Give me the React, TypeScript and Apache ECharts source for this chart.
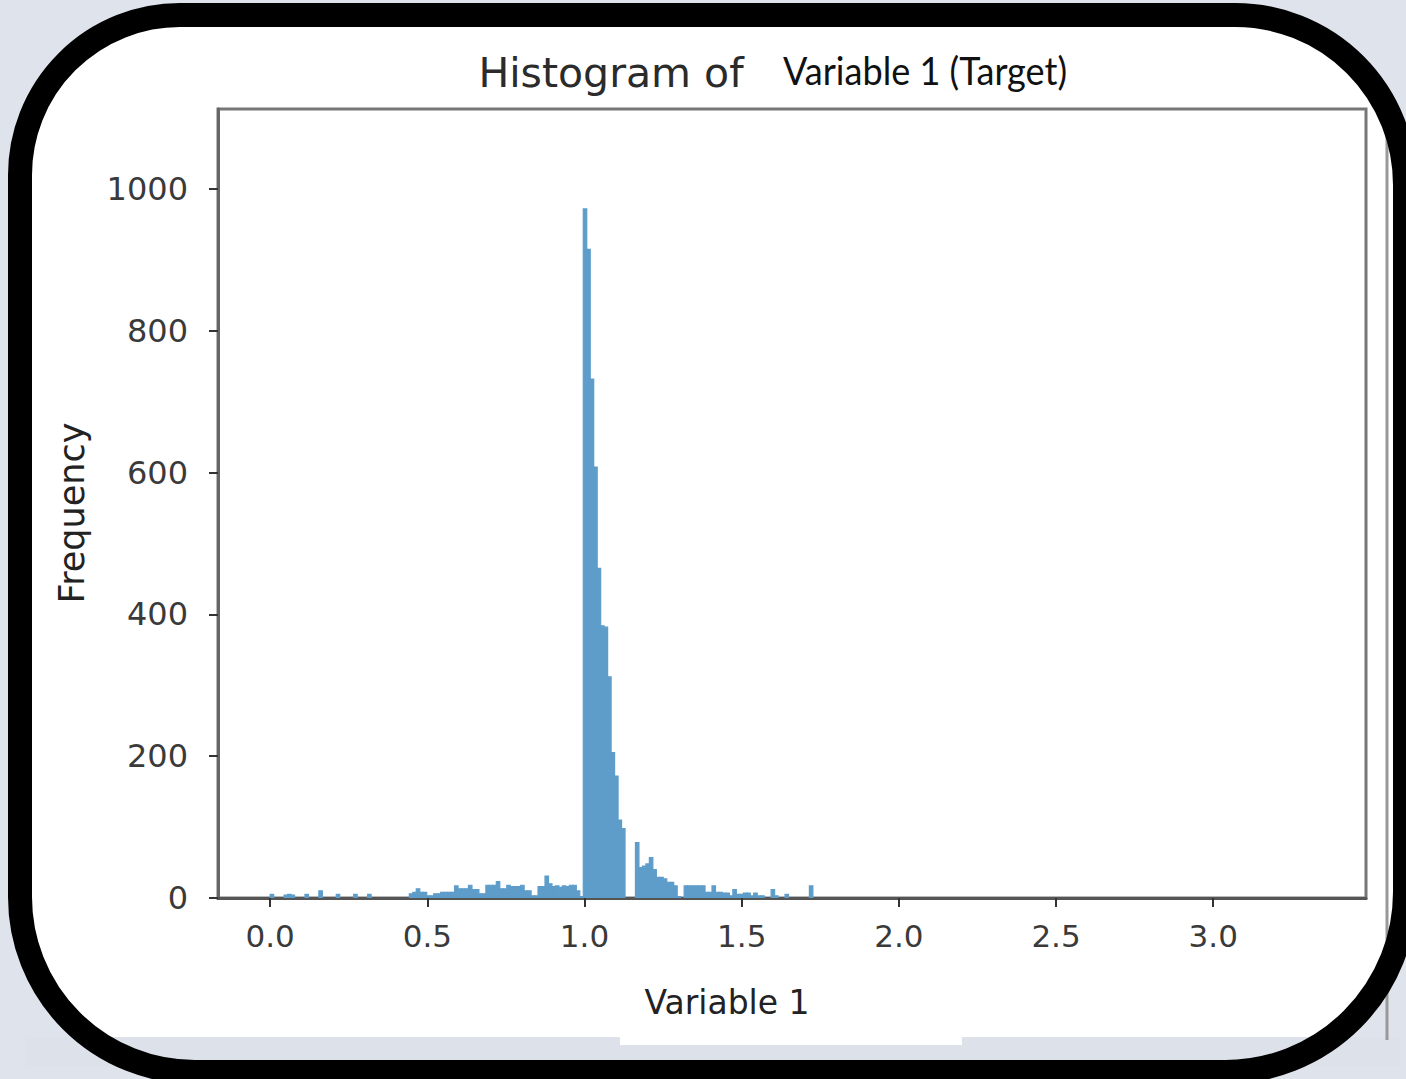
import React, { useEffect, useRef } from "react";
import * as echarts from "echarts";

// Histogram bins: left edge of bin i = binStart + i * binWidth
const binStart = 0;
const binWidth = 3.32 / 300;
const counts = [
  5, 0, 0, 0, 4, 5, 4, 0, 0, 0,
  5, 0, 0, 0, 10, 0, 0, 0, 0, 5,
  0, 0, 0, 0, 5, 0, 0, 0, 5, 0,
  0, 0, 0, 0, 0, 0, 0, 0, 0, 0,
  6, 8, 13, 8, 8, 3, 3, 6, 6, 8,
  8, 8, 8, 17, 13, 13, 13, 18, 12, 12,
  6, 6, 18, 18, 18, 23, 13, 13, 18, 16,
  16, 16, 18, 10, 10, 3, 3, 16, 16, 31,
  20, 16, 17, 15, 17, 16, 18, 18, 10, 2,
  972, 915, 732, 608, 465, 384, 382, 312, 205, 172,
  110, 98, 0, 0, 0, 78, 43, 45, 48, 57,
  40, 29, 29, 27, 22, 22, 17, 2, 0, 17,
  17, 17, 17, 17, 17, 8, 8, 17, 8, 8,
  7, 7, 3, 12, 5, 5, 7, 7, 3, 7,
  3, 3, 0, 0, 12, 3, 0, 0, 5, 0,
  0, 0, 0, 0, 0, 17,
];
const xTicks = [0, 0.5, 1, 1.5, 2, 2.5, 3];
const yTicks = [0, 200, 400, 600, 800, 1000];
const xMin = -0.166;
const xMax = 3.486;
const yMin = 0;
const yMax = 1113;
const titleMain = "Histogram of";
const titleVar = "Variable 1 (Target)";
const xName = "Variable 1";
const yName = "Frequency";

export default function App() {
  const ref = useRef<HTMLDivElement>(null);
  useEffect(() => {
    const chart = echarts.init(ref.current!, null, { renderer: "svg" });
    const data = counts
      .map((c, i) => [binStart + i * binWidth, binStart + (i + 1) * binWidth, c])
      .filter((d) => d[2] > 0);
    const frame = { x: 20, y: 15, width: 1385, height: 1057, r: [160, 170, 180, 175] };
    chart.setOption({
      animation: false,
      backgroundColor: "#dfe3ec",
      textStyle: { fontFamily: "DejaVu Sans" },
      grid: {
        left: 218,
        right: 40,
        top: 109,
        bottom: 181,
        containLabel: false,
        outerBoundsMode: "none",
        show: true,
        borderColor: "#777",
        borderWidth: 3,
        backgroundColor: "#fff",
      },
      xAxis: {
        type: "value",
        min: xMin,
        max: xMax,
        axisLine: { show: true, onZero: false, lineStyle: { color: "#555", width: 3 } },
        axisTick: { show: true, customValues: xTicks, length: 9, lineStyle: { color: "#333", width: 2 } },
        axisLabel: {
          customValues: xTicks,
          formatter: (v: number) => v.toFixed(1),
          fontSize: 31,
          color: "#3a3a3a",
          margin: 22,
        },
        splitLine: { show: false },
      },
      yAxis: {
        type: "value",
        min: yMin,
        max: yMax,
        axisLine: { show: true, onZero: false, lineStyle: { color: "#666", width: 3 } },
        axisTick: { show: true, customValues: yTicks, length: 9, lineStyle: { color: "#333", width: 2 } },
        axisLabel: {
          customValues: yTicks,
          formatter: (v: number) => String(v),
          fontSize: 32,
          color: "#3a3a3a",
          margin: 30,
        },
        splitLine: { show: false },
      },
      graphic: {
        elements: [
          { type: "rect", silent: true, z: -10, shape: frame, style: { fill: "#ffffff" } },
          { type: "rect", silent: true, z: -9, shape: { x: 25, y: 1037, width: 1375, height: 30 }, style: { fill: "#dde1ea" } },
          { type: "rect", silent: true, z: -8, shape: { x: 620, y: 1000, width: 342, height: 45 }, style: { fill: "#ffffff" } },
          { type: "line", silent: true, z: -7, shape: { x1: 1387, y1: 135, x2: 1387, y2: 1040 }, style: { stroke: "#999", lineWidth: 3 } },
          { type: "rect", silent: true, z: 50, shape: frame, style: { fill: "none", stroke: "#000", lineWidth: 24 } },
          {
            type: "text",
            z: 60,
            x: 611,
            y: 73,
            style: { text: titleMain, fontSize: 41, fontFamily: "DejaVu Sans", fill: "#2b2b2b", align: "center", verticalAlign: "middle" },
          },
          {
            type: "text",
            z: 60,
            x: 783,
            y: 70,
            scaleX: 0.95,
            style: { text: titleVar, fontSize: 38, fontFamily: "Lato", fill: "#111", align: "left", verticalAlign: "middle" },
          },
          {
            type: "text",
            z: 60,
            x: 727,
            y: 1002,
            style: { text: xName, fontSize: 33, fontFamily: "DejaVu Sans", fill: "#222", align: "center", verticalAlign: "middle" },
          },
          {
            type: "text",
            z: 60,
            x: 72,
            y: 513,
            rotation: Math.PI / 2,
            style: { text: yName, fontSize: 35, fontFamily: "DejaVu Sans", fill: "#222", align: "center", verticalAlign: "middle" },
          },
        ],
      },
      series: [
        {
          type: "custom",
          encode: { x: [0, 1], y: 2 },
          data,
          clip: true,
          renderItem: (params: any, api: any) => {
            const p0 = api.coord([api.value(0), 0]);
            const p1 = api.coord([api.value(1), api.value(2)]);
            return {
              type: "rect",
              shape: { x: p0[0], y: p1[1], width: p1[0] - p0[0], height: p0[1] - p1[1] },
              style: { fill: "#5e9dca", stroke: "#5e9dca", lineWidth: 1.2 },
            };
          },
        },
      ],
    });
    return () => chart.dispose();
  }, []);
  return <div ref={ref} style={{ position: "fixed", left: 0, top: 0, width: 1406, height: 1079 }} />;
}
